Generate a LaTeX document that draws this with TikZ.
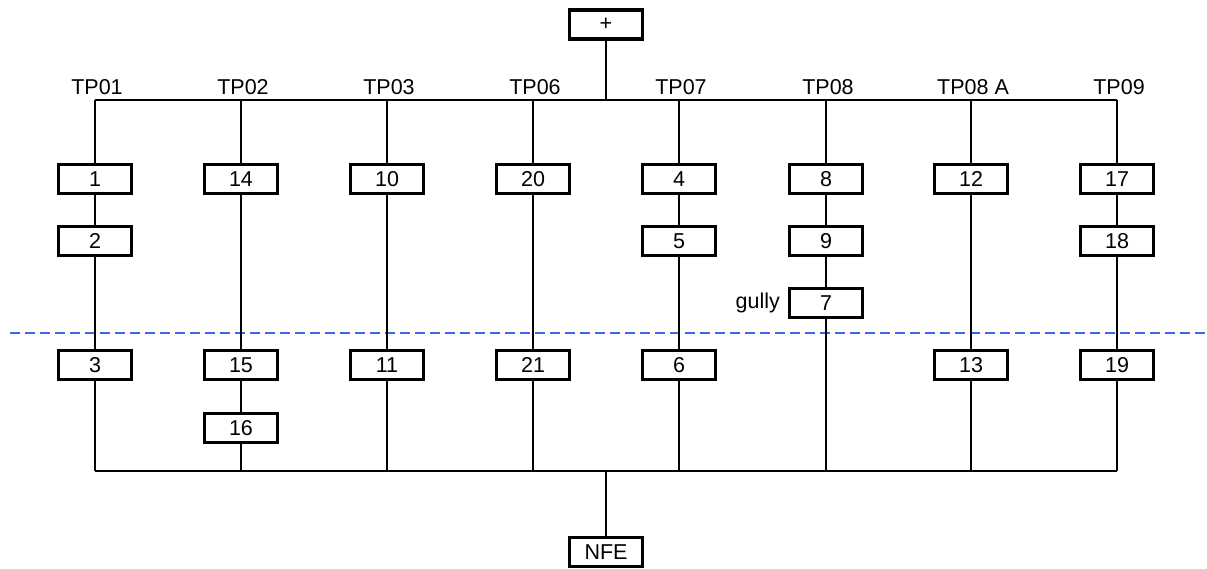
\documentclass[tikz,border=0pt]{standalone}
\usepackage{fontspec}
\setmainfont{Liberation Sans}
\begin{document}
\begin{tikzpicture}[x=1pt,y=-1pt,
  bx/.style={draw,line width=3.2pt,minimum width=73pt,minimum height=29pt,inner sep=0pt,font=\fontsize{21.5}{24}\selectfont,fill=white},
  lbl/.style={font=\fontsize{21.5}{24}\selectfont,inner sep=0pt},
  ln/.style={line width=2.6pt},
  cut/.style={line width=2.8pt,draw={rgb,255:red,62;green,104;blue,235},dash pattern=on 10pt off 5pt}]
\useasboundingbox (0,0) rectangle (1207,569);
\def\cA{95}\def\cB{241}\def\cC{387}\def\cD{533}\def\cE{679}\def\cF{826}\def\cG{971}\def\cH{1117}
\def\rA{179}\def\rB{241}\def\rC{303}\def\rD{365}\def\rE{428}
% cut line
\draw[cut] (10,333) -- (1207,333);
% top and bottom junctions
\foreach \n/\x in {a/\cA,b/\cB,c/\cC,d/\cD,e/\cE,f/\cF,g/\cG,h/\cH}{
  \coordinate (t\n) at (\x,100);
  \coordinate (b\n) at (\x,471);
}
\coordinate (tm) at (606,100);
\coordinate (bm) at (606,471);
% boxes
\node[bx] (plus) at (606,24.5) {+};
\node[bx] (nfe) at (606,552) {NFE};
\node[bx] (n1) at (\cA,\rA) {1};
\node[bx] (n2) at (\cA,\rB) {2};
\node[bx] (n3) at (\cA,\rD) {3};
\node[bx] (n14) at (\cB,\rA) {14};
\node[bx] (n15) at (\cB,\rD) {15};
\node[bx] (n16) at (\cB,\rE) {16};
\node[bx] (n10) at (\cC,\rA) {10};
\node[bx] (n11) at (\cC,\rD) {11};
\node[bx] (n20) at (\cD,\rA) {20};
\node[bx] (n21) at (\cD,\rD) {21};
\node[bx] (n4) at (\cE,\rA) {4};
\node[bx] (n5) at (\cE,\rB) {5};
\node[bx] (n6) at (\cE,\rD) {6};
\node[bx] (n8) at (\cF,\rA) {8};
\node[bx] (n9) at (\cF,\rB) {9};
\node[bx] (n7) at (\cF,\rC) {7};
\node[bx] (n12) at (\cG,\rA) {12};
\node[bx] (n13) at (\cG,\rD) {13};
\node[bx] (n17) at (\cH,\rA) {17};
\node[bx] (n18) at (\cH,\rB) {18};
\node[bx] (n19) at (\cH,\rD) {19};
\node[lbl,anchor=east] (gully) at (780,303) {gully};
% labels
\foreach \n/\t in {a/TP01,b/TP02,c/TP03,d/TP06,e/TP07,f/TP08,g/TP08 A,h/TP09}{
  \node[lbl,anchor=base] (l\n) at ([xshift=2pt,yshift=5.5pt]t\n) {\t};
}
% connectors
\draw[ln] (ta) -- (th);
\draw[ln] (ba) -- (bh);
\draw[ln] (plus) -- (tm);
\draw[ln] (bm) -- (nfe);
\draw[ln] (ta) -- (n1); \draw[ln] (n1) -- (n2); \draw[ln] (n2) -- (n3); \draw[ln] (n3) -- (ba);
\draw[ln] (tb) -- (n14); \draw[ln] (n14) -- (n15); \draw[ln] (n15) -- (n16); \draw[ln] (n16) -- (bb);
\draw[ln] (tc) -- (n10); \draw[ln] (n10) -- (n11); \draw[ln] (n11) -- (bc);
\draw[ln] (td) -- (n20); \draw[ln] (n20) -- (n21); \draw[ln] (n21) -- (bd);
\draw[ln] (te) -- (n4); \draw[ln] (n4) -- (n5); \draw[ln] (n5) -- (n6); \draw[ln] (n6) -- (be);
\draw[ln] (tf) -- (n8); \draw[ln] (n8) -- (n9); \draw[ln] (n9) -- (n7); \draw[ln] (n7) -- (bf);
\draw[ln] (tg) -- (n12); \draw[ln] (n12) -- (n13); \draw[ln] (n13) -- (bg);
\draw[ln] (th) -- (n17); \draw[ln] (n17) -- (n18); \draw[ln] (n18) -- (n19); \draw[ln] (n19) -- (bh);
\end{tikzpicture}
\end{document}
